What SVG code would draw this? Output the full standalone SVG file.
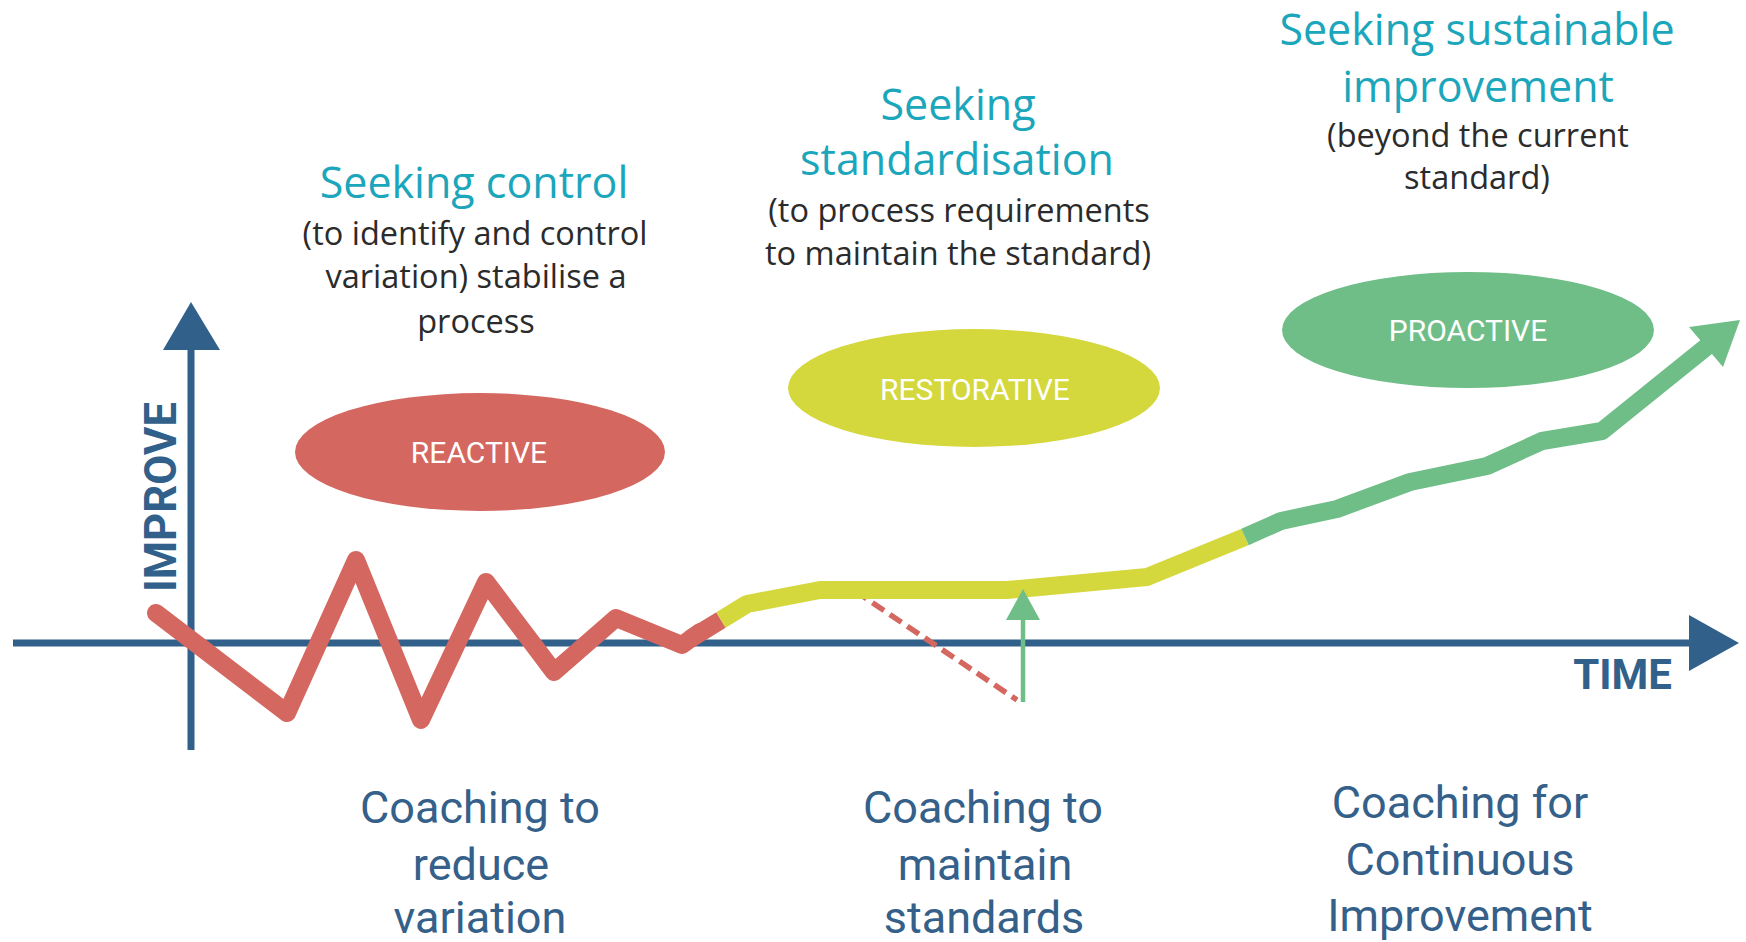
<svg xmlns="http://www.w3.org/2000/svg" width="1746" height="942" viewBox="0 0 1746 942">
  <style>
    .axis { stroke: #31618A; stroke-width: 7; fill: none; }
    .axis-head { fill: #31618A; }
    .axis-label { font-family: Roboto, "Liberation Sans", sans-serif; font-weight: bold; fill: #31618A; }
    .heading { font-family: "Open Sans", "DejaVu Sans", sans-serif; font-size: 43px; fill: #1BA6BB; text-anchor: middle; }
    .note { font-family: "Open Sans", "DejaVu Sans", sans-serif; font-size: 32.5px; fill: #2B2B2B; text-anchor: middle; }
    .mode { font-family: Roboto, "Liberation Sans", sans-serif; font-size: 30px; fill: #FFFFFF; text-anchor: middle; }
    .coach { font-family: Roboto, "Liberation Sans", sans-serif; font-size: 45px; fill: #34608A; text-anchor: middle; }
    .trend { fill: none; stroke-width: 18; stroke-linejoin: round; }
  </style>

  <!-- axes -->
  <g id="axes">
    <line class="axis" x1="191" y1="750" x2="191" y2="348"/>
    <polygon class="axis-head" points="163,350 220,350 191,302"/>
    <line class="axis" x1="13" y1="643" x2="1692" y2="643"/>
    <polygon class="axis-head" points="1689,615 1689,671 1739,643"/>
    <text class="axis-label" font-size="44" text-anchor="middle" transform="translate(176,497) rotate(-90)" textLength="190" lengthAdjust="spacingAndGlyphs">IMPROVE</text>
    <text class="axis-label" font-size="42" x="1672" y="689" text-anchor="end">TIME</text>
  </g>

  <!-- stage headings -->
  <g id="stage-control">
    <text class="heading" x="474" y="198">Seeking control</text>
    <text class="note" x="475" y="245">(to identify and control</text>
    <text class="note" x="476" y="288">variation) stabilise a</text>
    <text class="note" x="476" y="333">process</text>
  </g>
  <g id="stage-standardisation">
    <text class="heading" x="958" y="120">Seeking</text>
    <text class="heading" x="957" y="175">standardisation</text>
    <text class="note" x="959" y="222">(to process requirements</text>
    <text class="note" x="958" y="265">to maintain the standard)</text>
  </g>
  <g id="stage-improvement">
    <text class="heading" x="1477" y="45" font-size="42">Seeking sustainable</text>
    <text class="heading" x="1478" y="102" font-size="42">improvement</text>
    <text class="note" x="1478" y="147">(beyond the current</text>
    <text class="note" x="1477" y="189">standard)</text>
  </g>

  <!-- mode ellipses -->
  <g id="reactive">
    <ellipse cx="480" cy="452" rx="185" ry="59" fill="#D4675F"/>
    <text class="mode" x="479" y="463">REACTIVE</text>
  </g>
  <g id="restorative">
    <ellipse cx="974" cy="388" rx="186" ry="59" fill="#D4D83D"/>
    <text class="mode" x="975" y="400">RESTORATIVE</text>
  </g>
  <g id="proactive">
    <ellipse cx="1468" cy="330" rx="186" ry="58" fill="#6FBE87"/>
    <text class="mode" x="1468" y="341">PROACTIVE</text>
  </g>

  <!-- performance trend -->
  <g id="connectors">
    <line x1="855" y1="591" x2="1017" y2="700" stroke="#D4675F" stroke-width="5.5" stroke-dasharray="14 7"/>
    <polyline class="trend" stroke="#D4675F" stroke-linecap="round" points="156,613 287,713 356,560 421,720 486,582 554,672 616,618 682,645 700,632"/>
    <polyline class="trend" stroke="#D4675F" stroke-linecap="butt" points="690,639 721,620"/>
    <polyline class="trend" stroke="#D4D83D" stroke-linecap="butt" points="721,620 747,604 820,590 1007,590 1147,577 1245,537"/>
    <polyline class="trend" stroke="#6FBE87" stroke-linecap="butt" points="1245,537 1281,521 1337,509 1410,482 1487,466 1542,441 1602,431 1710,344"/>
    <polygon fill="#6FBE87" points="1740,320 1689,327 1723,367"/>
    <line x1="1023" y1="702" x2="1023" y2="615" stroke="#6FBE87" stroke-width="4.5"/>
    <polygon fill="#6FBE87" points="1006,620 1040,620 1023,589"/>
  </g>

  <!-- coaching labels -->
  <g id="coach-variation">
    <text class="coach" x="480" y="823">Coaching to</text>
    <text class="coach" x="481" y="880">reduce</text>
    <text class="coach" x="480" y="933">variation</text>
  </g>
  <g id="coach-standards">
    <text class="coach" x="983" y="823">Coaching to</text>
    <text class="coach" x="985" y="880">maintain</text>
    <text class="coach" x="984" y="933">standards</text>
  </g>
  <g id="coach-improvement">
    <text class="coach" x="1460" y="818">Coaching for</text>
    <text class="coach" x="1460" y="875">Continuous</text>
    <text class="coach" x="1460" y="931">Improvement</text>
  </g>
</svg>
